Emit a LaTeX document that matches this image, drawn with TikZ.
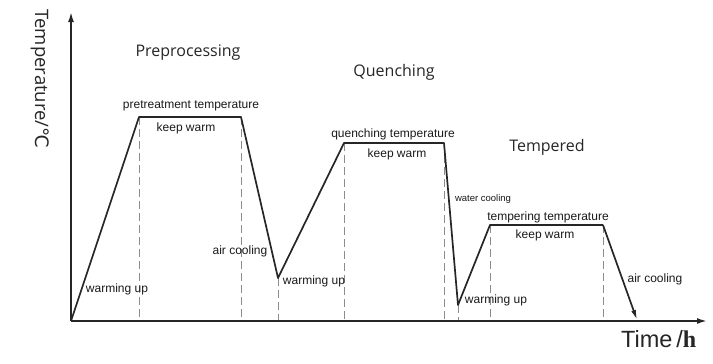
\documentclass[tikz,border=0pt]{standalone}
\usepackage{fontspec}
\setmainfont{Liberation Sans}
\newfontfamily\titlefont{Open Sans}
\newfontfamily\symfont{DejaVu Sans}
\newfontfamily\serifh{Liberation Serif}
\usetikzlibrary{arrows.meta}
\begin{document}
\begin{tikzpicture}[x=1pt,y=-1pt,
  axis/.style={line width=1.7pt,draw=black!85,-{Latex[length=10pt,width=6pt]}},
  curve/.style={line width=1.7pt,draw=black!85,line join=round},
  guide/.style={draw=black!45,line width=0.9pt,dash pattern=on 8pt off 4pt},
  lbl/.style={font=\fontsize{12}{14}\selectfont,inner sep=0pt,text=black!90},
  small/.style={font=\fontsize{9.5}{11}\selectfont,inner sep=0pt,text=black!90},
  stage/.style={font=\titlefont\fontsize{16}{19}\selectfont,inner sep=0pt,text=black!85}]
\useasboundingbox (0,0) rectangle (713,364);
% key points
\coordinate (o) at (71,321);
\coordinate (ytop) at (71,12);
\coordinate (xend) at (707,321);
\coordinate (p1) at (139,117);
\coordinate (p2) at (241,117);
\coordinate (p3) at (278,278);
\coordinate (p4) at (344,143);
\coordinate (p5) at (444,143);
\coordinate (p6) at (458,305);
\coordinate (p7) at (490,225);
\coordinate (p8) at (603,225);
\coordinate (p9) at (637,320);
% guides
\foreach \p in {p1,p2,p3,p4,p5,p6,p7,p8}
  \draw[guide] (\p) -- (\p |- o);
% axes
\draw[axis] (o) -- (ytop);
\draw[axis] (o) -- (xend);
% curve
\draw[curve] (o) -- (p1) -- (p2) -- (p3) -- (p4) -- (p5) -- (p6) -- (p7) -- (p8);
\draw[curve,-{Latex[length=10pt,width=5pt]}] (p8) -- (p9);
% axis labels
\node[stage,rotate=-90,font=\titlefont\fontsize{18.5}{20}\selectfont,anchor=north] (ylab) at (49,79) {Temperature/{\symfont ℃}};
\node[inner sep=0pt,text=black!85,anchor=base west] (xlab) at (621,347) {\fontsize{23.5}{26}\selectfont Time\,/{\serifh\bfseries\fontsize{24}{26}\selectfont h}};
% stage titles
\node[stage] (s1) at (188,53) {Preprocessing};
\node[stage] (s2) at (394,72) {Quenching};
\node[stage] (s3) at (547,147) {Tempered};
% labels
\node[lbl] (t1) at (191,106) {pretreatment temperature};
\node[lbl] (k1) at (186,128) {keep warm};
\node[lbl] (t2) at (393,134) {quenching temperature};
\node[lbl] (k2) at (397,154) {keep warm};
\node[lbl] (t3) at (548,217) {tempering temperature};
\node[lbl] (k3) at (545,235) {keep warm};
\node[lbl] (w1) at (117,289) {warming up};
\node[lbl] (w2) at (314,281) {warming up};
\node[lbl] (w3) at (496,300) {warming up};
\node[lbl] (a1) at (240,251) {air cooling};
\node[lbl] (a2) at (655,279) {air cooling};
\node[small] (wc) at (483,199) {water cooling};
\end{tikzpicture}
\end{document}
